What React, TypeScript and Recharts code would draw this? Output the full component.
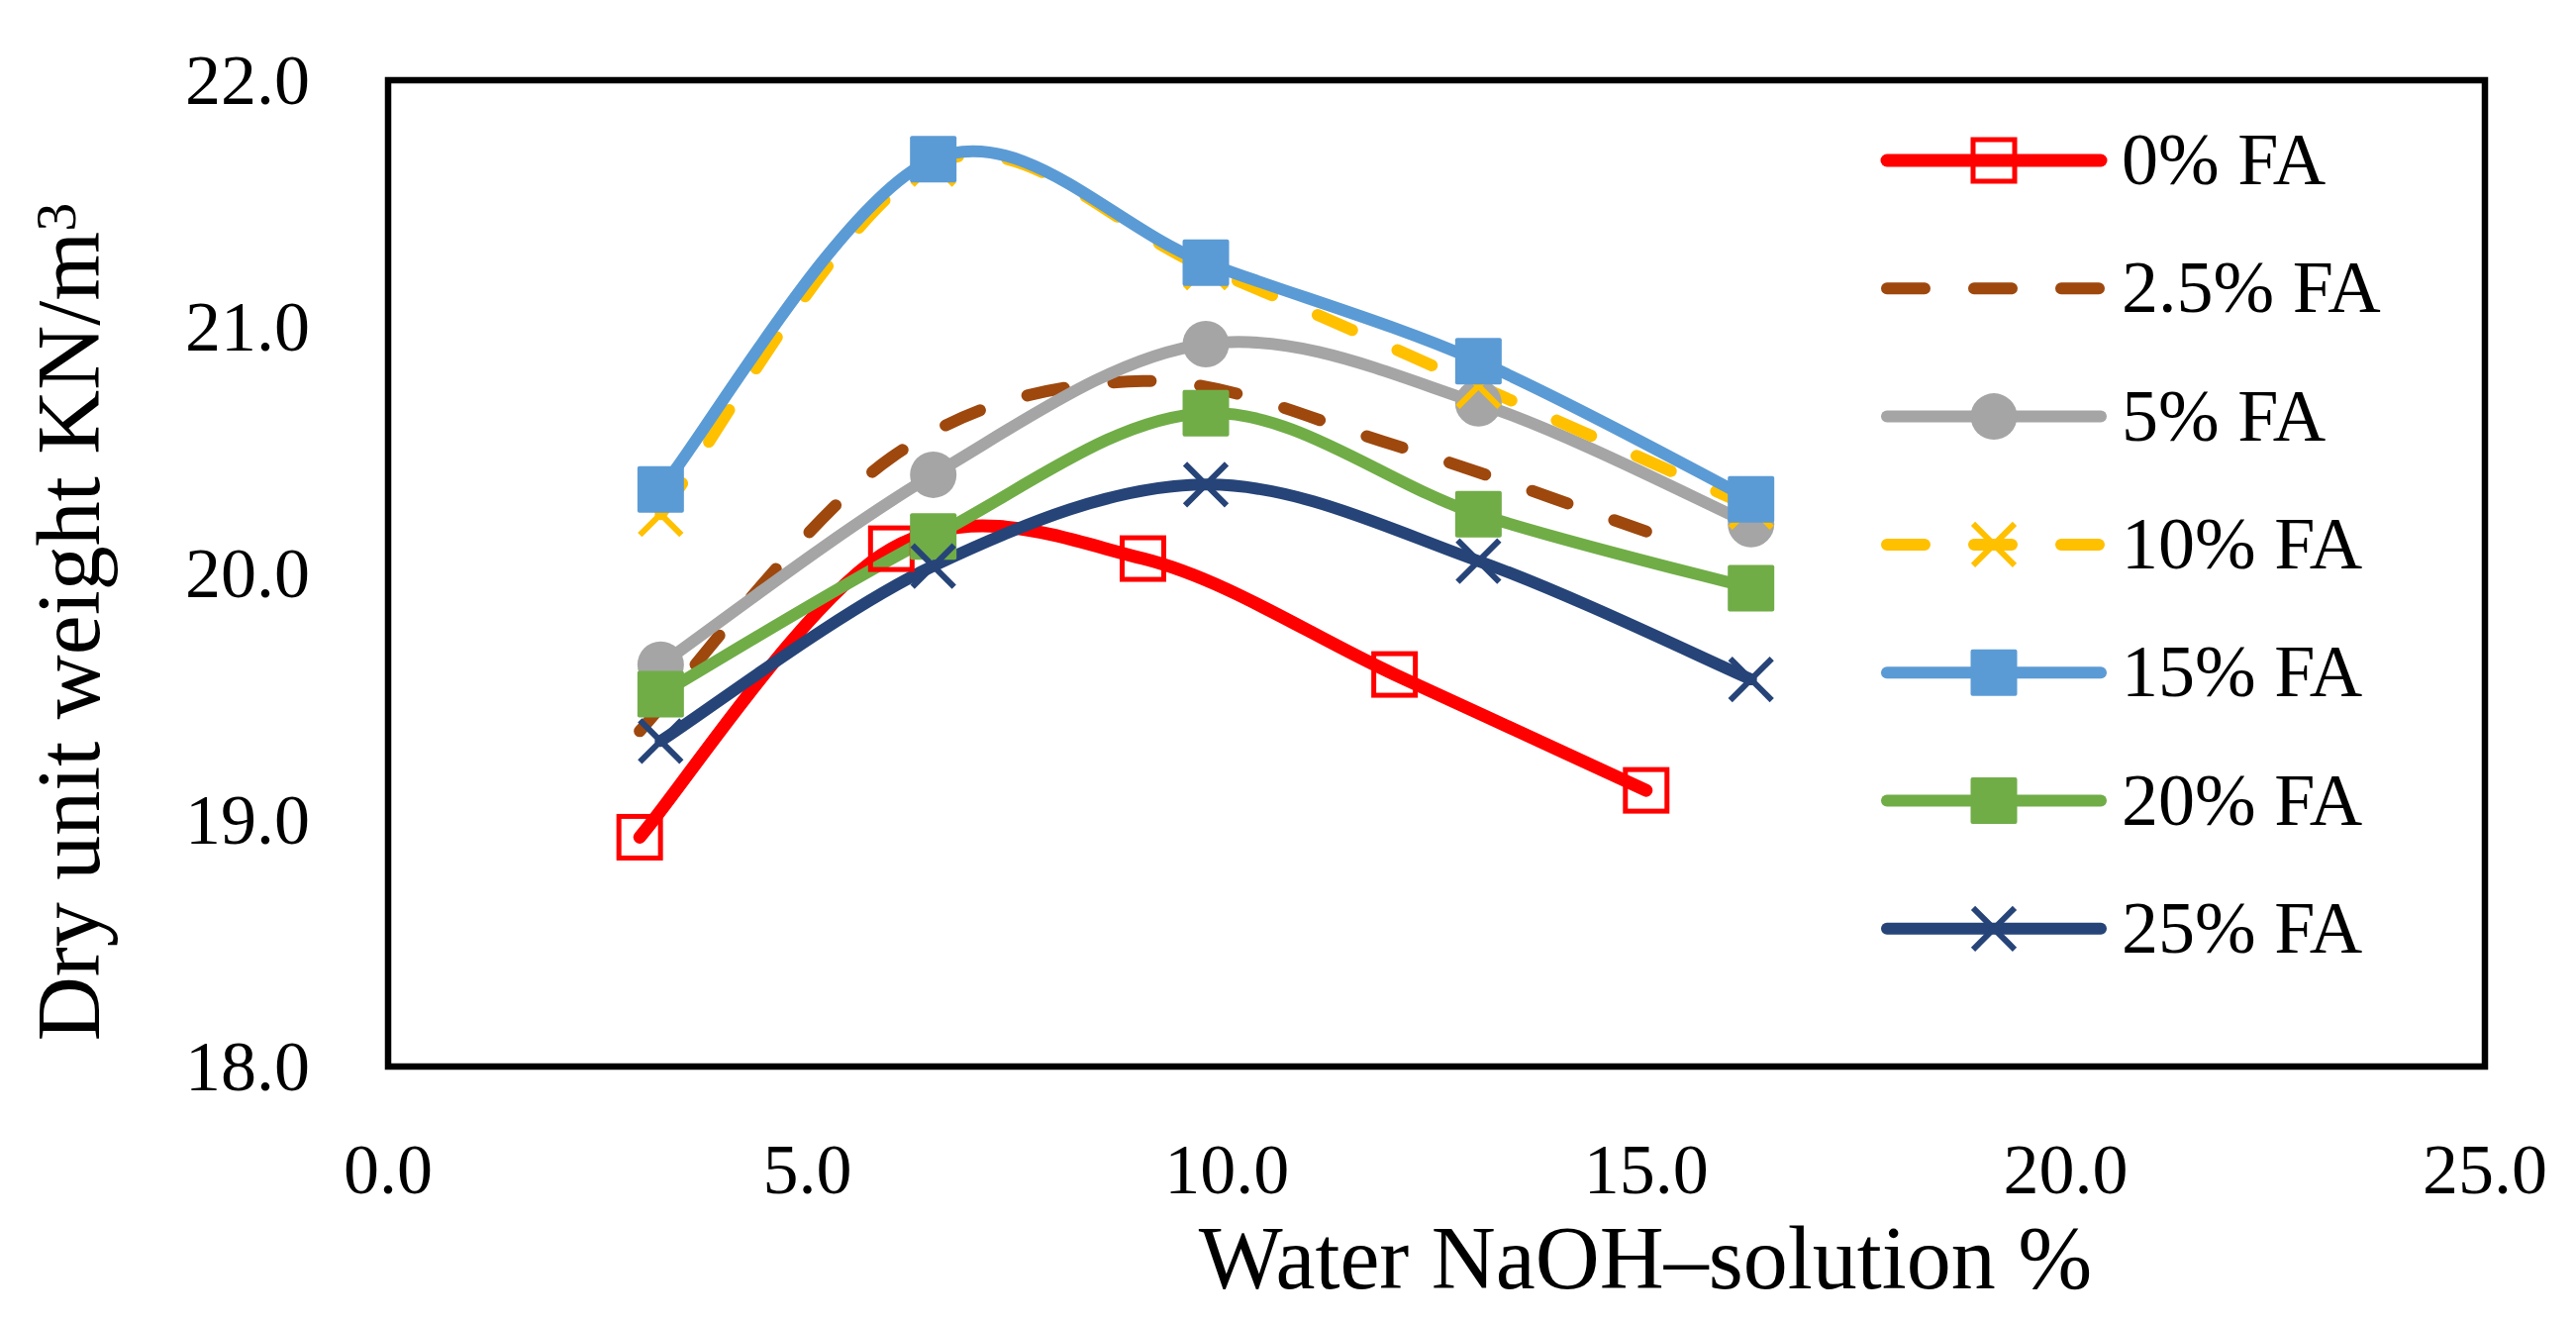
import React from 'react';
import { LineChart, Line, XAxis, YAxis, ReferenceArea, Customized } from 'recharts';

// ---- data ----
const xA = [3, 6, 9, 12, 15];
const xB = [3.25, 6.5, 9.75, 13, 16.25];

const fa0 = [18.93, 20.1, 20.06, 19.59, 19.12];
const fa2_5 = [19.36, 20.47, 20.78, 20.52, 20.17];
const fa5 = [19.63, 20.4, 20.93, 20.69, 20.2];
const fa10 = [20.24, 21.66, 21.24, 20.76, 20.27];
const fa15 = [20.34, 21.68, 21.26, 20.86, 20.3];
const fa20 = [19.51, 20.15, 20.65, 20.24, 19.94];
const fa25 = [19.32, 20.03, 20.36, 20.05, 19.57];

const xTicks = [0, 5, 10, 15, 20, 25];
const yTicks = [18, 19, 20, 21, 22];

const seriesNames = ['0% FA', '2.5% FA', '5% FA', '10% FA', '15% FA', '20% FA', '25% FA'];
const seriesColors = ['#FF0000', '#9E480E', '#A5A5A5', '#FFC000', '#5B9BD5', '#70AD47', '#264478'];
const seriesMarkers = ['hollowSquare', 'none', 'circle', 'x', 'square', 'square', 'x'];
const seriesDashed = [false, true, false, true, false, false, false];
const seriesWidths = [13, 12, 12, 12, 12, 12, 12];
const seriesX = [xA, xA, xB, xB, xB, xB, xB];
const seriesY = [fa0, fa2_5, fa5, fa10, fa15, fa20, fa25];

const toData = (xs: number[], ys: number[]) => xs.map((x, i) => ({ x, y: ys[i] }));

const FONT = '"Liberation Serif", "Times New Roman", serif';
const DASH = '38 50';

// Excel-like smoothed line (Catmull-Rom style Bezier)
function excelSmooth(context: any) {
  let pts: number[][] = [];
  return {
    areaStart() {},
    areaEnd() {},
    lineStart() {
      pts = [];
    },
    lineEnd() {
      const n = pts.length;
      if (n === 0) return;
      context.moveTo(pts[0][0], pts[0][1]);
      if (n === 1) return;
      for (let i = 0; i < n - 1; i++) {
        const p0 = pts[Math.max(0, i - 1)];
        const p1 = pts[i];
        const p2 = pts[i + 1];
        const p3 = pts[Math.min(n - 1, i + 2)];
        const c1x = p1[0] + (p2[0] - p0[0]) / 6;
        const c1y = p1[1] + (p2[1] - p0[1]) / 6;
        const c2x = p2[0] - (p3[0] - p1[0]) / 6;
        const c2y = p2[1] - (p3[1] - p1[1]) / 6;
        context.bezierCurveTo(c1x, c1y, c2x, c2y, p2[0], p2[1]);
      }
    },
    point(x: number, y: number) {
      pts.push([+x, +y]);
    },
  };
}

const MS = 47;

function MarkerShape({ type, color, cx, cy }: { type: string; color: string; cx: number; cy: number }) {
  const h = MS / 2;
  if (type === 'hollowSquare') {
    return <rect x={cx - h + 2.5} y={cy - h + 2.5} width={MS - 5} height={MS - 5} fill="none" stroke={color} strokeWidth={5} />;
  }
  if (type === 'square') {
    return <rect x={cx - h} y={cy - h} width={MS} height={MS} fill={color} stroke="none" rx={2} />;
  }
  if (type === 'circle') {
    return <circle cx={cx} cy={cy} r={h} fill={color} />;
  }
  if (type === 'x') {
    const a = 21;
    return (
      <g stroke={color} strokeWidth={6}>
        <line x1={cx - a} y1={cy - a} x2={cx + a} y2={cy + a} />
        <line x1={cx - a} y1={cy + a} x2={cx + a} y2={cy - a} />
      </g>
    );
  }
  return null;
}

const makeDot = (type: string, color: string) => (props: any) => {
  const { cx, cy, index } = props;
  if (type === 'none' || cx == null || cy == null) return <g key={`d-${index}`} />;
  return (
    <g key={`d-${index}`}>
      <MarkerShape type={type} color={color} cx={cx} cy={cy} />
    </g>
  );
};

const XTick = (props: any) => {
  const { x, payload } = props;
  return (
    <text x={x} y={1205} textAnchor="middle" fontFamily={FONT} fontSize={72} fill="#000">
      {Number(payload.value).toFixed(1)}
    </text>
  );
};

const YTick = (props: any) => {
  const { y, payload } = props;
  return (
    <text x={313} y={y + 24} textAnchor="end" fontFamily={FONT} fontSize={72} fill="#000">
      {Number(payload.value).toFixed(1)}
    </text>
  );
};

const Decorations = () => {
  const rowY0 = 162;
  const rowStep = 129.3;
  return (
    <g>
      <text x={1662} y={1301} textAnchor="middle" fontFamily={FONT} fontSize={90} fill="#000">
        Water NaOH–solution %
      </text>
      <text
        transform="translate(100, 628) rotate(-90)"
        x={0}
        y={0}
        textAnchor="middle"
        fontFamily={FONT}
        fontSize={90}
        fill="#000"
      >
        <tspan>Dry unit weight KN/m</tspan>
        <tspan fontSize={58} dy={-24}>3</tspan>
      </text>
      {seriesNames.map((name, i) => {
        const cy = rowY0 + i * rowStep;
        const color = seriesColors[i];
        return (
          <g key={name}>
            <line
              x1={1906}
              y1={cy}
              x2={2122}
              y2={cy}
              stroke={color}
              strokeWidth={seriesWidths[i]}
              strokeLinecap="round"
              strokeDasharray={seriesDashed[i] ? DASH : undefined}
            />
            <MarkerShape type={seriesMarkers[i]} color={color} cx={2014} cy={cy} />
            <text x={2143} y={cy + 24} fontFamily={FONT} fontSize={74} fill="#000">
              {name}
            </text>
          </g>
        );
      })}
    </g>
  );
};

export default function App() {
  return (
    <div style={{ position: 'absolute', left: 0, top: 0, width: 2602, height: 1337, background: '#fff' }}>
      <LineChart width={2602} height={1337} margin={{ top: 81, right: 92, bottom: 160, left: 0 }}>
        <XAxis
          dataKey="x"
          type="number"
          domain={[0, 25]}
          ticks={xTicks}
          axisLine={false}
          tickLine={false}
          height={100}
          tick={<XTick />}
          allowDuplicatedCategory={false}
        />
        <YAxis
          type="number"
          domain={[18, 22]}
          ticks={yTicks}
          axisLine={false}
          tickLine={false}
          width={392}
          tick={<YTick />}
        />
        <ReferenceArea
          x1={0}
          x2={25}
          y1={18}
          y2={22}
          fill="none"
          fillOpacity={0}
          stroke="#000"
          strokeWidth={6.5}
          ifOverflow="visible"
        />
        {seriesNames.map((name, i) => (
          <Line
            key={name}
            name={name}
            data={toData(seriesX[i], seriesY[i])}
            dataKey="y"
            type={excelSmooth as any}
            stroke={seriesColors[i]}
            strokeWidth={seriesWidths[i]}
            strokeLinecap="round"
            strokeLinejoin="round"
            strokeDasharray={seriesDashed[i] ? DASH : undefined}
            dot={makeDot(seriesMarkers[i], seriesColors[i])}
            activeDot={false}
            isAnimationActive={false}
          />
        ))}
        <Customized component={Decorations} />
      </LineChart>
    </div>
  );
}
